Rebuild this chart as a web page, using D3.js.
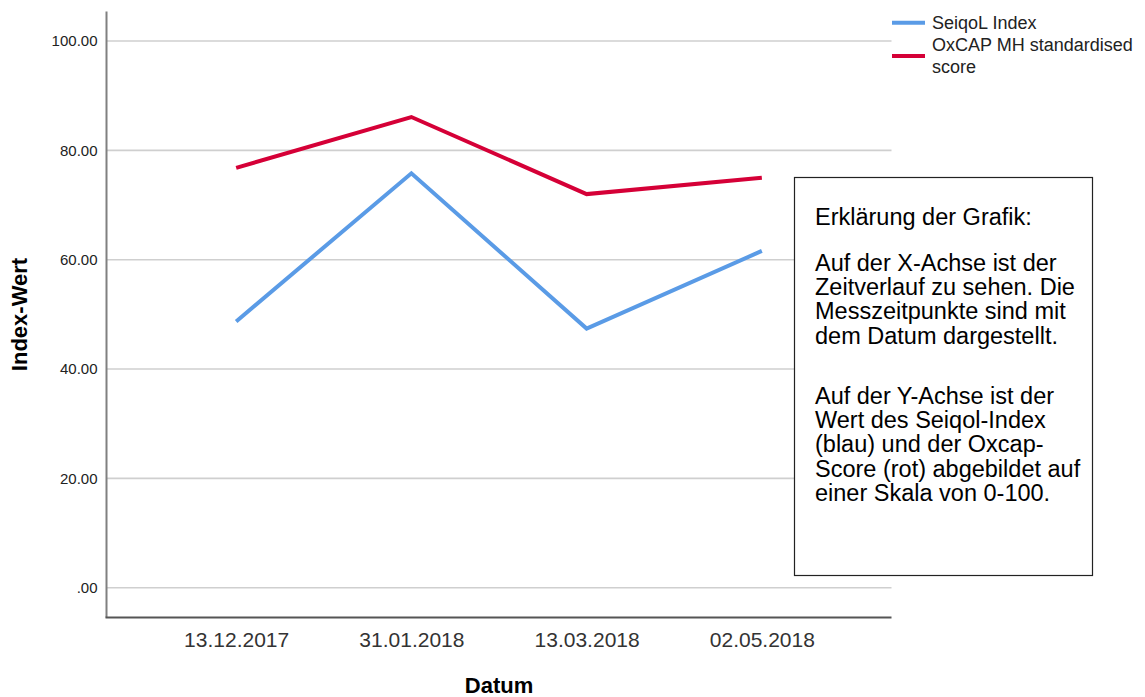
<!DOCTYPE html>
<html>
<head>
<meta charset="utf-8">
<title>Index-Wert</title>
<script src="https://d3js.org/d3.v7.min.js"></script>
<style>
	body { margin: 0; background: #fff; }
	text { font-family: "Liberation Sans", Arial, sans-serif; }
</style>
</head>
<body>
<div id="chart"></div>
<script>
// data
var dates = ["13.12.2017", "31.01.2018", "13.03.2018", "02.05.2018"];
var seiqol = [48.7, 75.8, 47.4, 61.6];
var oxcap = [76.8, 86.1, 72.0, 75.0];
var yTicks = [0, 20, 40, 60, 80, 100];
var yTickLabels = [".00", "20.00", "40.00", "60.00", "80.00", "100.00"];
var legendNames = [["SeiqoL Index"], ["OxCAP MH standardised", "score"]];
var noteParas = [
	["Erklärung der Grafik:"],
	["Auf der X-Achse ist der", "Zeitverlauf zu sehen. Die", "Messzeitpunkte sind mit", "dem Datum dargestellt."],
	["Auf der Y-Achse ist der", "Wert des Seiqol-Index", "(blau) und der Oxcap-", "Score (rot) abgebildet auf", "einer Skala von 0-100."]
];
var colors = ["#5a9be6", "#d50037"];

var W = 1145, H = 697;
var plotL = 106.5, plotR = 891.5, plotT = 11.5, plotB = 617.5;

var svg = d3.select("#chart").append("svg")
	.attr("width", W).attr("height", H);

var x = d3.scalePoint().domain(dates).range([plotL, plotR]).padding(0.74);
var y = d3.scaleLinear().domain([-5.45, 105.4]).range([plotB, plotT]);

// grid lines
svg.append("g").selectAll("line").data(yTicks).enter().append("line")
	.attr("x1", plotL).attr("x2", plotR)
	.attr("y1", function(d) { return y(d); })
	.attr("y2", function(d) { return y(d); })
	.attr("stroke", "#cfcfcf").attr("stroke-width", 1.6);

// y axis
var yAxis = svg.append("g")
	.attr("transform", "translate(" + plotL + ",0)")
	.call(d3.axisLeft(y).tickValues(yTicks).tickSize(0).tickPadding(9)
		.tickFormat(function(d, i) { return yTickLabels[i]; }));
yAxis.select(".domain").remove();
yAxis.selectAll("text").attr("font-size", 15).attr("fill", "#222")
	.style("font-family", "'Liberation Sans', Arial, sans-serif");

// x axis
var xAxis = svg.append("g")
	.attr("transform", "translate(0," + plotB + ")")
	.call(d3.axisBottom(x).tickSize(0).tickPadding(15));
xAxis.select(".domain").remove();
xAxis.selectAll("text").attr("font-size", 21).attr("fill", "#333")
	.style("font-family", "'Liberation Sans', Arial, sans-serif");

// axis lines
svg.append("line").attr("x1", plotL).attr("x2", plotL).attr("y1", plotT).attr("y2", plotB)
	.attr("stroke", "#808080").attr("stroke-width", 2);
svg.append("line").attr("x1", plotL - 1).attr("x2", plotR).attr("y1", plotB).attr("y2", plotB)
	.attr("stroke", "#555").attr("stroke-width", 2);

// lines
var line = d3.line()
	.x(function(d, i) { return x(dates[i]); })
	.y(function(d) { return y(d); });

[seiqol, oxcap].forEach(function(s, k) {
	svg.append("path").datum(s)
		.attr("d", line)
		.attr("fill", "none")
		.attr("stroke", colors[k])
		.attr("stroke-width", 4);
});

// axis titles
svg.append("text").attr("x", (plotL + plotR) / 2).attr("y", 693)
	.attr("text-anchor", "middle").attr("font-size", 22).attr("font-weight", "bold")
	.text("Datum");
svg.append("text").attr("transform", "translate(27," + (plotT + plotB) / 2 + ") rotate(-90)")
	.attr("text-anchor", "middle").attr("font-size", 22).attr("font-weight", "bold")
	.text("Index-Wert");

// legend
var lg = svg.append("g");
var legY = [22.7, 56];
var legText = [29, 51];
legendNames.forEach(function(nm, k) {
	lg.append("line").attr("x1", 892).attr("x2", 925)
		.attr("y1", legY[k]).attr("y2", legY[k])
		.attr("stroke", colors[k]).attr("stroke-width", 4);
	nm.forEach(function(t, j) {
		lg.append("text").attr("x", 932).attr("y", legText[k] + j * 22)
			.attr("font-size", 18).attr("fill", "#222").text(t);
	});
});

// note box
svg.append("rect").attr("x", 794.5).attr("y", 177.5).attr("width", 298).attr("height", 398)
	.attr("fill", "#fff").attr("stroke", "#222").attr("stroke-width", 1.2);
var paraStart = [225, 271, 404];
var note = svg.append("g");
noteParas.forEach(function(p, k) {
	p.forEach(function(t, j) {
		note.append("text").attr("x", 815).attr("y", paraStart[k] + j * 24.2)
			.attr("font-size", 23.5).attr("fill", "#000").text(t);
	});
});
</script>
</body>
</html>
